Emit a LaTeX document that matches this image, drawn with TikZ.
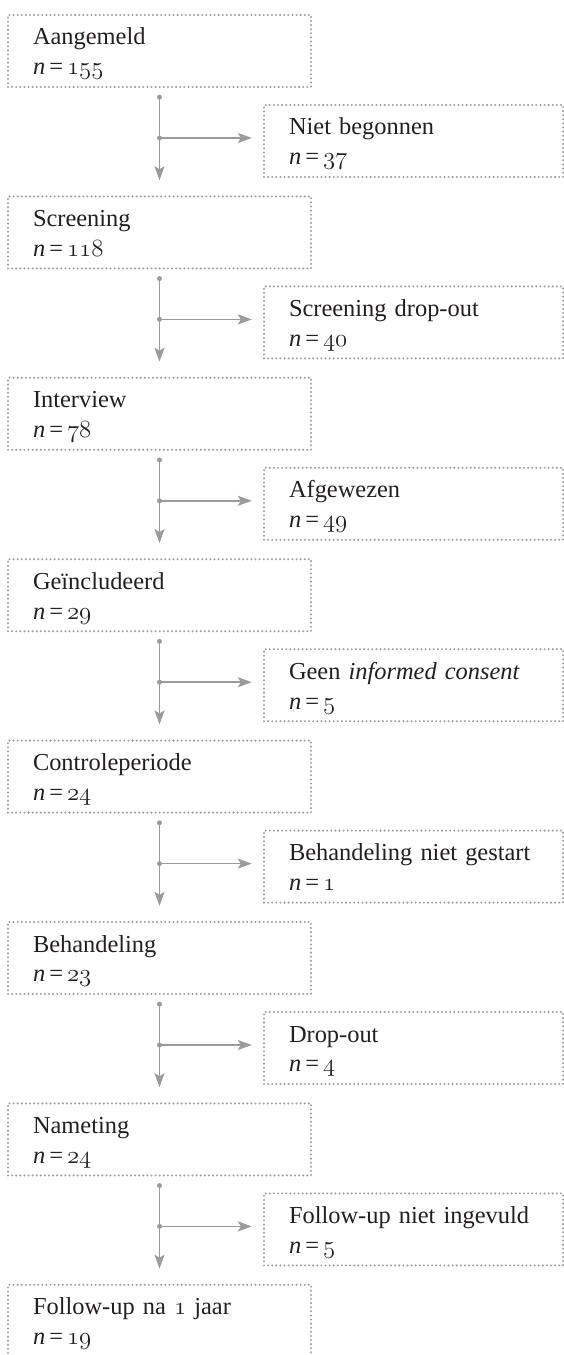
\documentclass[tikz,border=0pt]{standalone}
\usepackage{fontspec}
\setmainfont[WordSpace=0.75]{Liberation Serif}
\usepackage{tikz}
\usetikzlibrary{positioning}
\usetikzlibrary{arrows.meta}
\definecolor{dotgray}{RGB}{160,160,160}
\definecolor{linegray}{RGB}{155,155,155}
\definecolor{inkblack}{RGB}{35,31,32}
\tikzset{>={Stealth[length=14bp,width=10bp,inset=3bp]}}
\tikzset{
  stagebox/.style={draw=dotgray, line width=2.3bp, dash pattern=on 0bp off 4.1bp,
    line cap=round, anchor=north west, align=left, text=inkblack,
    inner xsep=25bp, inner ysep=0bp, minimum height=72bp,
    text height=21bp, text depth=33bp,
    font=\fontsize{24.5}{30}\selectfont},
  mainbox/.style={stagebox, text width=253bp},
  outbox/.style={stagebox, text width=249bp},
  flow/.style={draw=linegray, line width=1.6bp, ->},
  knot/.style={fill=linegray}
}
\newcommand{\osnum}[1]{{\usefont{OML}{cmm}{m}{it}#1}}
\newcommand{\ncount}[1]{\textit{n}\,=\,\osnum{#1}}

\begin{document}
\begin{tikzpicture}[x=1bp, y=-1bp]
        \useasboundingbox (0,0) rectangle (564,1355);
        \clip (0,0) rectangle (564,1355);
        % aangemeld
        \node[mainbox] (aangemeld) at (6.85,13.85) {Aangemeld\\\ncount{155}};
        \node[outbox, below right=15.7bp and -49.3bp of aangemeld] (nietbegonnen) {Niet begonnen\\\ncount{37}};
        % screening
        \node[mainbox, below=107.1bp of aangemeld] (screening) {Screening\\\ncount{118}};
        \node[outbox, below right=15.7bp and -49.3bp of screening] (screendrop) {Screening drop-out\\\ncount{40}};
        % interview
        \node[mainbox, below=107.1bp of screening] (interview) {Interview\\\ncount{78}};
        \node[outbox, below right=15.7bp and -49.3bp of interview] (afgewezen) {Afgewezen\\\ncount{49}};
        % geincludeerd
        \node[mainbox, below=107.1bp of interview] (included) {Geïncludeerd\\\ncount{29}};
        \node[outbox, below right=15.7bp and -49.3bp of included] (noconsent) {Geen \textit{informed consent}\\\ncount{5}};
        % controleperiode
        \node[mainbox, below=107.1bp of included] (control) {Controleperiode\\\ncount{24}};
        \node[outbox, below right=15.7bp and -49.3bp of control] (notstarted) {Behandeling niet gestart\\\ncount{1}};
        % behandeling
        \node[mainbox, below=107.1bp of control] (treatment) {Behandeling\\\ncount{23}};
        \node[outbox, below right=15.7bp and -49.3bp of treatment] (treatdrop) {Drop-out\\\ncount{4}};
        % nameting
        \node[mainbox, below=107.1bp of treatment] (posttest) {Nameting\\\ncount{24}};
        \node[outbox, below right=15.7bp and -49.3bp of posttest] (nofollowup) {Follow-up niet ingevuld\\\ncount{5}};
        % follow-up
        \node[mainbox, below=107.1bp of posttest] (followup) {Follow-up na \osnum{1} jaar\\\ncount{19}};
        % connectors
        \foreach \from/\to/\out in {aangemeld/screening/nietbegonnen,
            screening/interview/screendrop, interview/included/afgewezen,
            included/control/noconsent, control/treatment/notstarted,
            treatment/posttest/treatdrop, posttest/followup/nofollowup} {
          \coordinate (\from-top) at ([yshift=-9bp]\from.south);
          \coordinate (\from-split) at ([yshift=3bp]\from-top |- \out.west);
          \draw[flow] (\from-top) -- ([yshift=15bp]\to.north);
          \draw[flow] (\from-split) -- ([xshift=-11bp]\from-split -| \out.west);
          \fill[knot] (\from-top) circle (2.5bp);
          \fill[knot] (\from-split) circle (2.5bp);
        }
\end{tikzpicture}
\end{document}
